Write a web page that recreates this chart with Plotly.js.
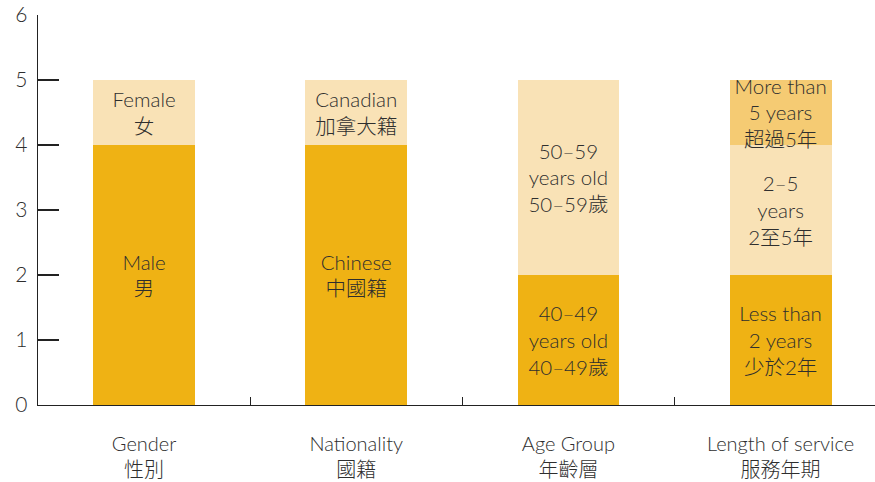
<!DOCTYPE html>
<html><head><meta charset="utf-8">
<script src="https://cdn.plot.ly/plotly-3.0.1.min.js"></script>
<style>html,body{margin:0;padding:0;background:#fff}#chart{width:875px;height:482px}</style>
</head><body><div id="chart"></div>
<script>
const categories = ["Gender<br>性別", "Nationality<br>國籍", "Age Group<br>年齡層", "Length of service<br>服務年期"];
const firstValues = [4, 4, 2, 2];
const firstLabels = ["Male<br>男", "Chinese<br>中國籍", "40–49<br>years old<br>40–49歲", "Less than<br>2 years<br>少於2年"];
const secondValues = [1, 1, 3, 2];
const secondLabels = ["Female<br>女", "Canadian<br>加拿大籍", "50–59<br>years old<br>50–59歲", "2–5<br>years<br>2至5年"];
const thirdValues = [0, 0, 0, 1];
const thirdLabels = ["", "", "", "More than<br>5 years<br>超過5年"];
const yTicks = [0, 1, 2, 3, 4, 5, 6];

const FONT = "Lato, 'Noto Sans CJK TC', sans-serif";
const TXT = "#2e2e2e";
function seg(vals, labels, color) {
  return {
    type: "bar", x: categories, y: vals, text: labels,
    textposition: "inside", insidetextanchor: "middle",
    textfont: {family: FONT, size: 20.5, color: TXT, weight: 300},
    marker: {color: color, line: {width: 0}},
    width: 0.48, hoverinfo: "skip", cliponaxis: false
  };
}
const data = [
  seg(firstValues, firstLabels, "#EFB214"),
  seg(secondValues, secondLabels, "#F9E2B6"),
  seg(thirdValues, thirdLabels, "#F5CB73")
];
const layout = {
  width: 875, height: 482,
  margin: {l: 38, r: 0, t: 15, b: 77, pad: 0},
  barmode: "stack", showlegend: false,
  paper_bgcolor: "#fff", plot_bgcolor: "#fff",
  font: {family: FONT, color: TXT, size: 20, weight: 300},
  uniformtext: {mode: "show", minsize: 20.5},
  xaxis: {
    type: "category", range: [-0.5, 3.445],
    showline: true, linecolor: "#222", linewidth: 1.3,
    ticks: "inside", ticklen: 8, tickcolor: "#222", tickwidth: 1.3,
    tickson: "boundaries", showgrid: false, zeroline: false,
    tickfont: {family: FONT, size: 20, color: TXT, weight: 300},
    ticklabelstandoff: 21
  },
  yaxis: {
    range: [0, 6], tickvals: yTicks,
    showline: true, linecolor: "#222", linewidth: 1.3,
    ticks: "inside", ticklen: 21, tickcolor: "#222", tickwidth: 1.3,
    showgrid: false, zeroline: false,
    tickfont: {family: FONT, size: 21, color: TXT, weight: 300},
    ticklabelstandoff: 5
  }
};
Plotly.newPlot("chart", data, layout, {staticPlot: true, displayModeBar: false});
</script></body></html>
